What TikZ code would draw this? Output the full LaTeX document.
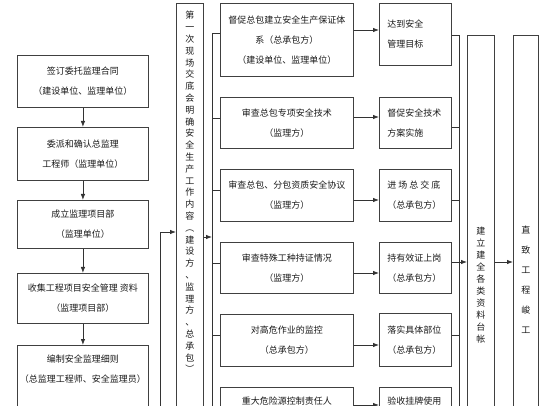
\documentclass[tikz,border=0pt]{standalone}
\usepackage{fontspec}
\setmainfont{Noto Sans CJK SC}
\usetikzlibrary{arrows.meta,positioning}

\begin{document}
\begin{tikzpicture}[x=1pt,y=-1pt,>={Latex[length=6pt,width=4.5pt]},
  every node/.style={font=\fontsize{9}{20}\selectfont,text=black!90},
  box/.style={draw=black!75,line width=0.9pt,anchor=north west,align=center,inner sep=0pt},
  lbox/.style={box,minimum width=131pt},
  mbox/.style={box,minimum width=133pt},
  rbox/.style={box,minimum width=72pt,align=left,text width=56pt},
  tall/.style={box,minimum width=27pt,minimum height=440pt},
  vtext/.style={font=\fontsize{9}{11.8}\selectfont,align=center,inner sep=0pt},
  link/.style={draw=black!80,line width=0.8pt}]

\useasboundingbox (0,0) rectangle (560,406);
\clip (0,0) rectangle (560,406);

% supervision steps
\node[lbox,minimum height=52pt] (sign) at (17,55) {签订委托监理合同\\（建设单位、监理单位）};
\node[lbox,minimum height=53pt] (appoint) at (17,127) {委派和确认总监理\\工程师（监理单位）};
\node[lbox,minimum height=48pt] (dept) at (17,200) {成立监理项目部\\（监理单位）};
\node[lbox,minimum height=50pt] (collect) at (17,273) {收集工程项目安全管理 资料\\（监理项目部）};
\node[lbox,inner ysep=9pt,text depth=60pt] (rules) at (17,345) {编制安全监理细则\\（总监理工程师、安全监理员）};

\foreach \a/\b in {sign/appoint,appoint/dept,dept/collect,collect/rules}
  \draw[link,->] (\a) -- (\b);

% first site meeting
\node[tall] (meet) at (176,3) {};
\node[vtext] (meettxt) at (meet.center|-0,192) {第\\一\\次\\现\\场\\交\\底\\会\\明\\确\\安\\全\\生\\产\\工\\作\\内\\容\\︵\\建\\设\\方\\、\\监\\理\\方\\、\\总\\承\\包\\︶};

\coordinate (back) at (160,430);
\draw[link,->] (back) |- (meet.west|-0,232);

% checks
\node[mbox,minimum height=73pt] (m1) at (220,3) {督促总包建立安全生产保证体\\系（总承包方）\\（建设单位、监理单位）};
\node[mbox,minimum height=51pt] (m2) at (220,97) {审查总包专项安全技术\\（监理方）};
\node[mbox,minimum height=52pt] (m3) at (220,169) {审查总包、分包资质安全协议\\（监理方）};
\node[mbox,minimum height=51pt] (m4) at (220,242) {审查特殊工种持证情况\\（监理方）};
\node[mbox,minimum height=52pt] (m5) at (220,314) {对高危作业的监控\\（总承包方）};
\node[mbox,inner ysep=9pt,text depth=60pt] (m6) at (220,387) {重大危险源控制责任人};

\coordinate (bus) at (212,33);
\coordinate (busend) at (212,430);
\draw[link,->] (meet.east|-0,237) -- (bus|-0,237);
\draw[link] (m1.west|-bus) -- (bus) -- (busend);
\foreach \m/\y in {m2/118,m3/190,m4/263,m5/335}
  \draw[link] (bus|-0,\y) -- (\m.west|-0,\y);

% results
\node[rbox,minimum height=62pt] (r1) at (379,3) {达到安全\\管理目标};
\node[rbox,minimum height=51pt] (r2) at (379,97) {督促安全技术\\方案实施};
\node[rbox,minimum height=52pt] (r3) at (379,169) {进\hspace{2pt}场\hspace{2pt}总\hspace{2pt}交\hspace{2pt}底\\（总承包方）};
\node[rbox,minimum height=51pt] (r4) at (379,242) {持有效证上岗\\（总承包方）};
\node[rbox,minimum height=53pt] (r5) at (379,313) {落实具体部位\\（总承包方）};
\node[rbox,inner ysep=9pt,text depth=60pt] (r6) at (379,387) {验收挂牌使用};

\foreach \m/\r/\y in {m1/r1/30,m2/r2/117,m3/r3/200,m4/r4/273,m5/r5/345,m6/r6/405}
  \draw[link,->] (\m.east|-0,\y) -- (\r.west|-0,\y);

% ledger and completion
\node[tall] (ledger) at (467,35) {};
\node[vtext,font=\fontsize{9}{12}\selectfont] (ledgertxt) at (ledger.center|-0,285) {建\\立\\建\\全\\各\\类\\资\\料\\台\\帐};
\node[tall,minimum width=25pt] (finish) at (513,35) {};
\node[vtext,font=\fontsize{9}{20}\selectfont] (finishtxt) at (finish.center|-0,280) {直\\致\\工\\程\\峻\\工};

\coordinate (rbus) at (459,35);
\coordinate (rbusend) at (459,430);
\draw[link] (r1.east|-rbus) -- (rbus) -- (rbusend);
\foreach \r/\y in {r2/127,r3/200,r5/335}
  \draw[link] (\r.east|-0,\y) -- (rbus|-0,\y);
\draw[link,->] (r4.east|-0,262) -- (ledger.west|-0,262);
\draw[link,->] (ledger.east|-0,262) -- (finish.west|-0,262);
\end{tikzpicture}
\end{document}
